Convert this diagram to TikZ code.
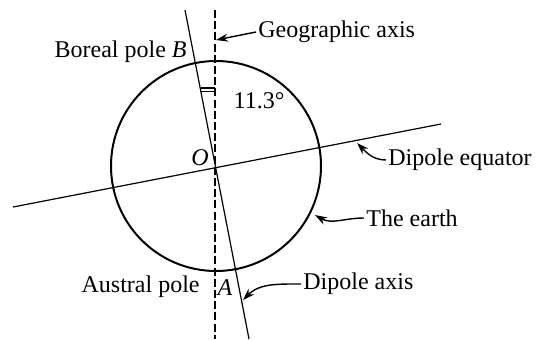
\documentclass[tikz,border=0pt]{standalone}
\usepackage{fontspec}
\setmainfont{Liberation Serif}
\usetikzlibrary{positioning, arrows.meta}

\begin{document}
\begin{tikzpicture}[x=0.5pt, y=0.5pt,
    font=\fontsize{12}{14}\selectfont,
    axisline/.style={line width=0.6pt},
    geoline/.style={line width=0.6pt, dash pattern=on 4pt off 1.6pt},
    callout/.style={line width=0.7pt, -{Stealth[length=6pt, width=4pt]}},
    lbl/.style={inner sep=1pt}]
    \useasboundingbox (0,0) rectangle (540,339);

    % la terre
    \coordinate (O) at (216,173);
    \draw[line width=1pt] (O) circle[radius=105];

    % axes : geographique (tirets), dipole, equateur
    \coordinate (geoTop) at (215,329);
    \coordinate (geoBot) at (215,0);
    \coordinate (dipTop) at (185,329);
    \coordinate (dipBot) at (249,0);
    \coordinate (equW) at (13,132);
    \coordinate (equE) at (441,215);
    \draw[geoline] (geoTop) -- (geoBot);
    \draw[axisline] (dipTop) -- (dipBot);
    \draw[axisline] (equW) -- (equE);

    % marque d'angle
    \draw[line width=0.7pt] (201,251) -- (215,251);
    \draw[line width=0.7pt] (201,247.5) -- (215,247.5);
    \node[lbl] (angle) at (259,238) {11.3°};

    % poles et centre
    \node[lbl, anchor=east] (boreal) at (189,287) {Boreal pole \textit{B}};
    \node[lbl, anchor=east] (austral) at (202,52) {Austral pole};
    \node[lbl] (ptA) at (225,51) {\textit{A}};
    \node[lbl] (ptO) at (200,181) {\textit{O}};

    % legendes avec fleches
    \node[lbl, anchor=west] (geo) at (256,307) {Geographic axis};
    \node[lbl, anchor=west] (equ) at (386,179) {Dipole equator};
    \node[lbl, anchor=west] (earth) at (364,121) {The earth};
    \node[lbl, anchor=west] (dipax) at (301,55) {Dipole axis};

    \coordinate (geoTip) at (216,299);
    \coordinate (equTip) at (357,196);
    \coordinate (earthTip) at (315,124);
    \coordinate (dipTip) at (243,39);
    \draw[callout] (geo.west) -- (geoTip);
    \draw[callout] (equ.west) to[out=180, in=-45] (equTip);
    \draw[callout] (earth.west) to[out=180, in=-30] (earthTip);
    \draw[callout] (dipax.west) to[out=180, in=45] (dipTip);
  \end{tikzpicture}
\end{document}
